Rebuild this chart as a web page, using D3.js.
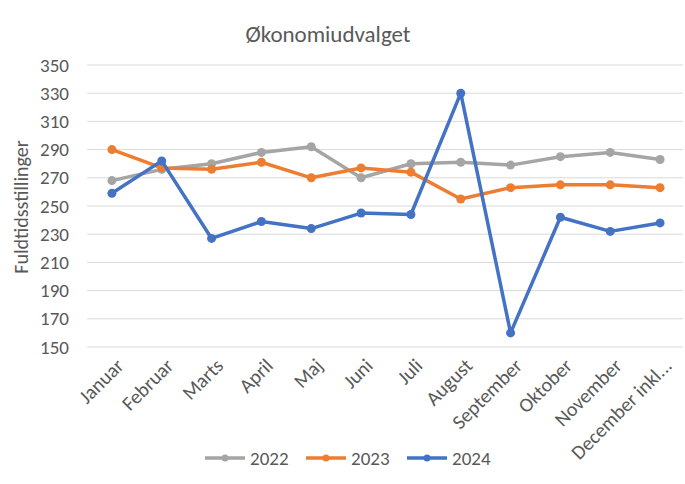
<!DOCTYPE html>
<html lang="da">
<head>
<meta charset="UTF-8">
<script src="https://cdn.jsdelivr.net/npm/d3@7"></script>
<title>Økonomiudvalget</title>
<style>
    body { margin: 0; background: #fff; }
    text { font-family: Carlito, "Liberation Sans Narrow", "Open Sans", sans-serif; fill: #595959; }
    .grid line { stroke: #d9d9d9; stroke-width: 1px; }
</style>
</head>
<body>
<div id="chart"></div>
<script>
    const months = ["Januar", "Februar", "Marts", "April", "Maj", "Juni", "Juli", "August",
        "September", "Oktober", "November", "December inkl..."];
    const yTicks = [150, 170, 190, 210, 230, 250, 270, 290, 310, 330, 350];

    const v2022 = [268, 276, 280, 288, 292, 270, 280, 281, 279, 285, 288, 283];
    const v2023 = [290, 277, 276, 281, 270, 277, 274, 255, 263, 265, 265, 263];
    const v2024 = [259, 282, 227, 239, 234, 245, 244, 330, 160, 242, 232, 238];

    const series = [
        { name: "2022", values: v2022, color: "#a5a5a5" },
        { name: "2023", values: v2023, color: "#ed7d31" },
        { name: "2024", values: v2024, color: "#4472c4" }
    ];

    const width = 685, height = 484;
    const svg = d3.select("#chart").append("svg")
        .attr("width", width)
        .attr("height", height);

    const x = d3.scaleBand().domain(months).range([87, 685]);
    const y = d3.scaleLinear().domain([150, 350]).range([347, 65]);

    // gridlines
    svg.append("g").attr("class", "grid")
        .selectAll("line")
        .data(yTicks)
        .enter().append("line")
        .attr("x1", 87).attr("x2", 683)
        .attr("y1", d => y(d)).attr("y2", d => y(d));

    // y axis labels
    svg.append("g")
        .attr("transform", "translate(69,0)")
        .call(d3.axisLeft(y).tickValues(yTicks).tickSize(0).tickPadding(0))
        .call(g => g.select(".domain").remove())
        .selectAll("text")
        .style("font-size", "19px")
        .attr("fill", "#595959");

    // x axis labels, rotated
    const xAxis = svg.append("g")
        .attr("transform", "translate(0,362)")
        .call(d3.axisBottom(x).tickSize(0).tickPadding(0));
    xAxis.select(".domain").remove();
    xAxis.selectAll("text")
        .style("font-size", "20px")
        .attr("fill", "#595959")
        .attr("text-anchor", "end")
        .attr("dy", "0.35em")
        .attr("transform", "translate(8,0) rotate(-45)");

    // title
    svg.append("text")
        .attr("x", 328).attr("y", 42)
        .attr("text-anchor", "middle")
        .style("font-size", "23px")
        .text("Økonomiudvalget");

    // y axis title
    svg.append("text")
        .attr("transform", "translate(28,207) rotate(-90)")
        .attr("text-anchor", "middle")
        .style("font-size", "20px")
        .text("Fuldtidsstillinger");

    const line = d3.line()
        .x((d, i) => x(months[i]) + x.bandwidth() / 2)
        .y(d => y(d));

    series.forEach(s => {
        const g = svg.append("g");
        g.append("path")
            .datum(s.values)
            .attr("fill", "none")
            .attr("stroke", s.color)
            .attr("stroke-width", 3.5)
            .attr("stroke-linejoin", "round")
            .attr("d", line);
        g.selectAll("circle")
            .data(s.values)
            .enter().append("circle")
            .attr("cx", (d, i) => x(months[i]) + x.bandwidth() / 2)
            .attr("cy", d => y(d))
            .attr("r", 4.5)
            .attr("fill", s.color);
    });

    // legend
    const legend = svg.append("g").attr("transform", "translate(0,458)");
    const legendX = [205, 306, 407];
    series.forEach((s, i) => {
        const lg = legend.append("g").attr("transform", `translate(${legendX[i]},0)`);
        lg.append("line")
            .attr("x1", 0).attr("x2", 40)
            .attr("stroke", s.color).attr("stroke-width", 3.5);
        lg.append("circle").attr("cx", 20).attr("r", 3.5).attr("fill", s.color);
        lg.append("text")
            .attr("x", 45).attr("dy", "0.35em")
            .style("font-size", "19px")
            .text(s.name);
    });
</script>
</body>
</html>
